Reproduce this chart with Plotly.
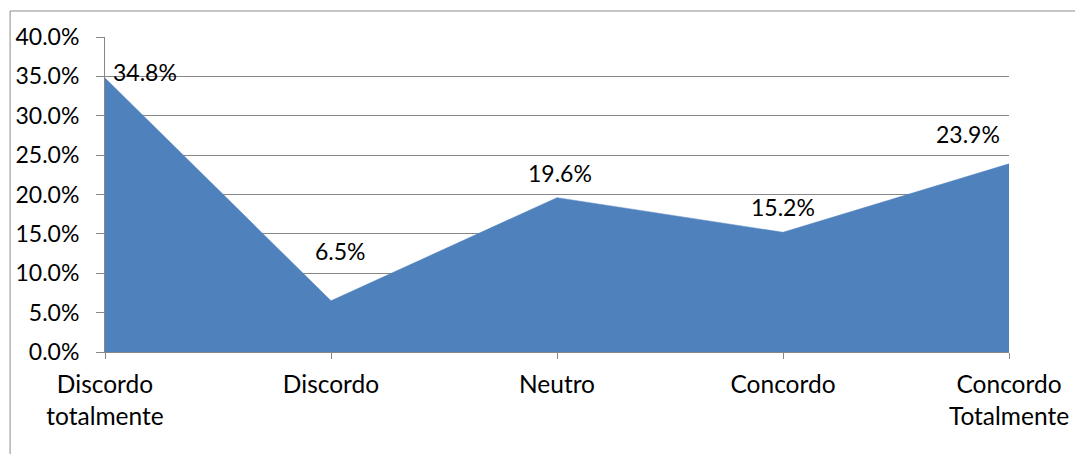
import plotly.graph_objects as go

# Survey answers (Likert scale) and share of respondents, in percent
categories = ["Discordo<br>totalmente", "Discordo", "Neutro", "Concordo", "Concordo<br>Totalmente"]
shares = [34.8, 6.5, 19.6, 15.2, 23.9]
y_ticks = [0, 5, 10, 15, 20, 25, 30, 35, 40]

# label offsets in pixels (x, y) relative to each point
label_offsets = [(40, 6), (9, 50), (3, 25), (0, 25), (-41, 30)]

FONT = "Lato"
FILL = "#4F81BD"
GRID = "#878787"

x_idx = list(range(len(categories)))

fig = go.Figure()
fig.add_trace(go.Scatter(
    x=x_idx, y=shares, mode="lines", fill="tozeroy",
    fillcolor=FILL, line=dict(color=FILL, width=0.5),
    hoverinfo="skip", showlegend=False,
))

for i, v in enumerate(shares):
    dx, dy = label_offsets[i]
    fig.add_annotation(
        x=i, y=v, text=f"{v:.1f}%", showarrow=False,
        xshift=dx, yshift=dy, xanchor="center", yanchor="middle",
        font=dict(family=FONT, size=23, color="black"),
    )

# outer chart frame
fig.add_shape(
    type="rect", xref="paper", yref="paper",
    x0=-0.105, x1=1.2, y0=-0.6, y1=1.0825,
    line=dict(color="#8c8c8c", width=1), fillcolor="rgba(0,0,0,0)",
    layer="below",
)

fig.update_layout(
    width=1075, height=454,
    margin=dict(l=105, r=66, t=37, b=102, autoexpand=False),
    paper_bgcolor="white", plot_bgcolor="white",
    font=dict(family=FONT, size=23, color="black"),
    showlegend=False,
)
fig.update_xaxes(
    range=[0, len(categories) - 1],
    tickmode="array", tickvals=x_idx, ticktext=categories,
    showgrid=False, zeroline=False,
    showline=True, linecolor=GRID, linewidth=1,
    ticks="outside", ticklen=6, tickcolor=GRID, tickwidth=1,
    ticklabelstandoff=5, automargin=False,
    tickfont=dict(family=FONT, size=24.5, color="black"),
    fixedrange=True,
)
fig.update_yaxes(
    range=[0, 40],
    tickmode="array", tickvals=y_ticks,
    ticktext=[f"{t:.1f}%" for t in y_ticks],
    showgrid=True, gridcolor=GRID, gridwidth=1,
    zeroline=False,
    showline=True, linecolor=GRID, linewidth=1,
    ticks="outside", ticklen=8, tickcolor=GRID, tickwidth=1,
    ticklabelstandoff=12, automargin=False,
    tickfont=dict(family=FONT, size=23, color="black"),
    fixedrange=True,
)

fig.write_html("out.html", config={"displayModeBar": False})
